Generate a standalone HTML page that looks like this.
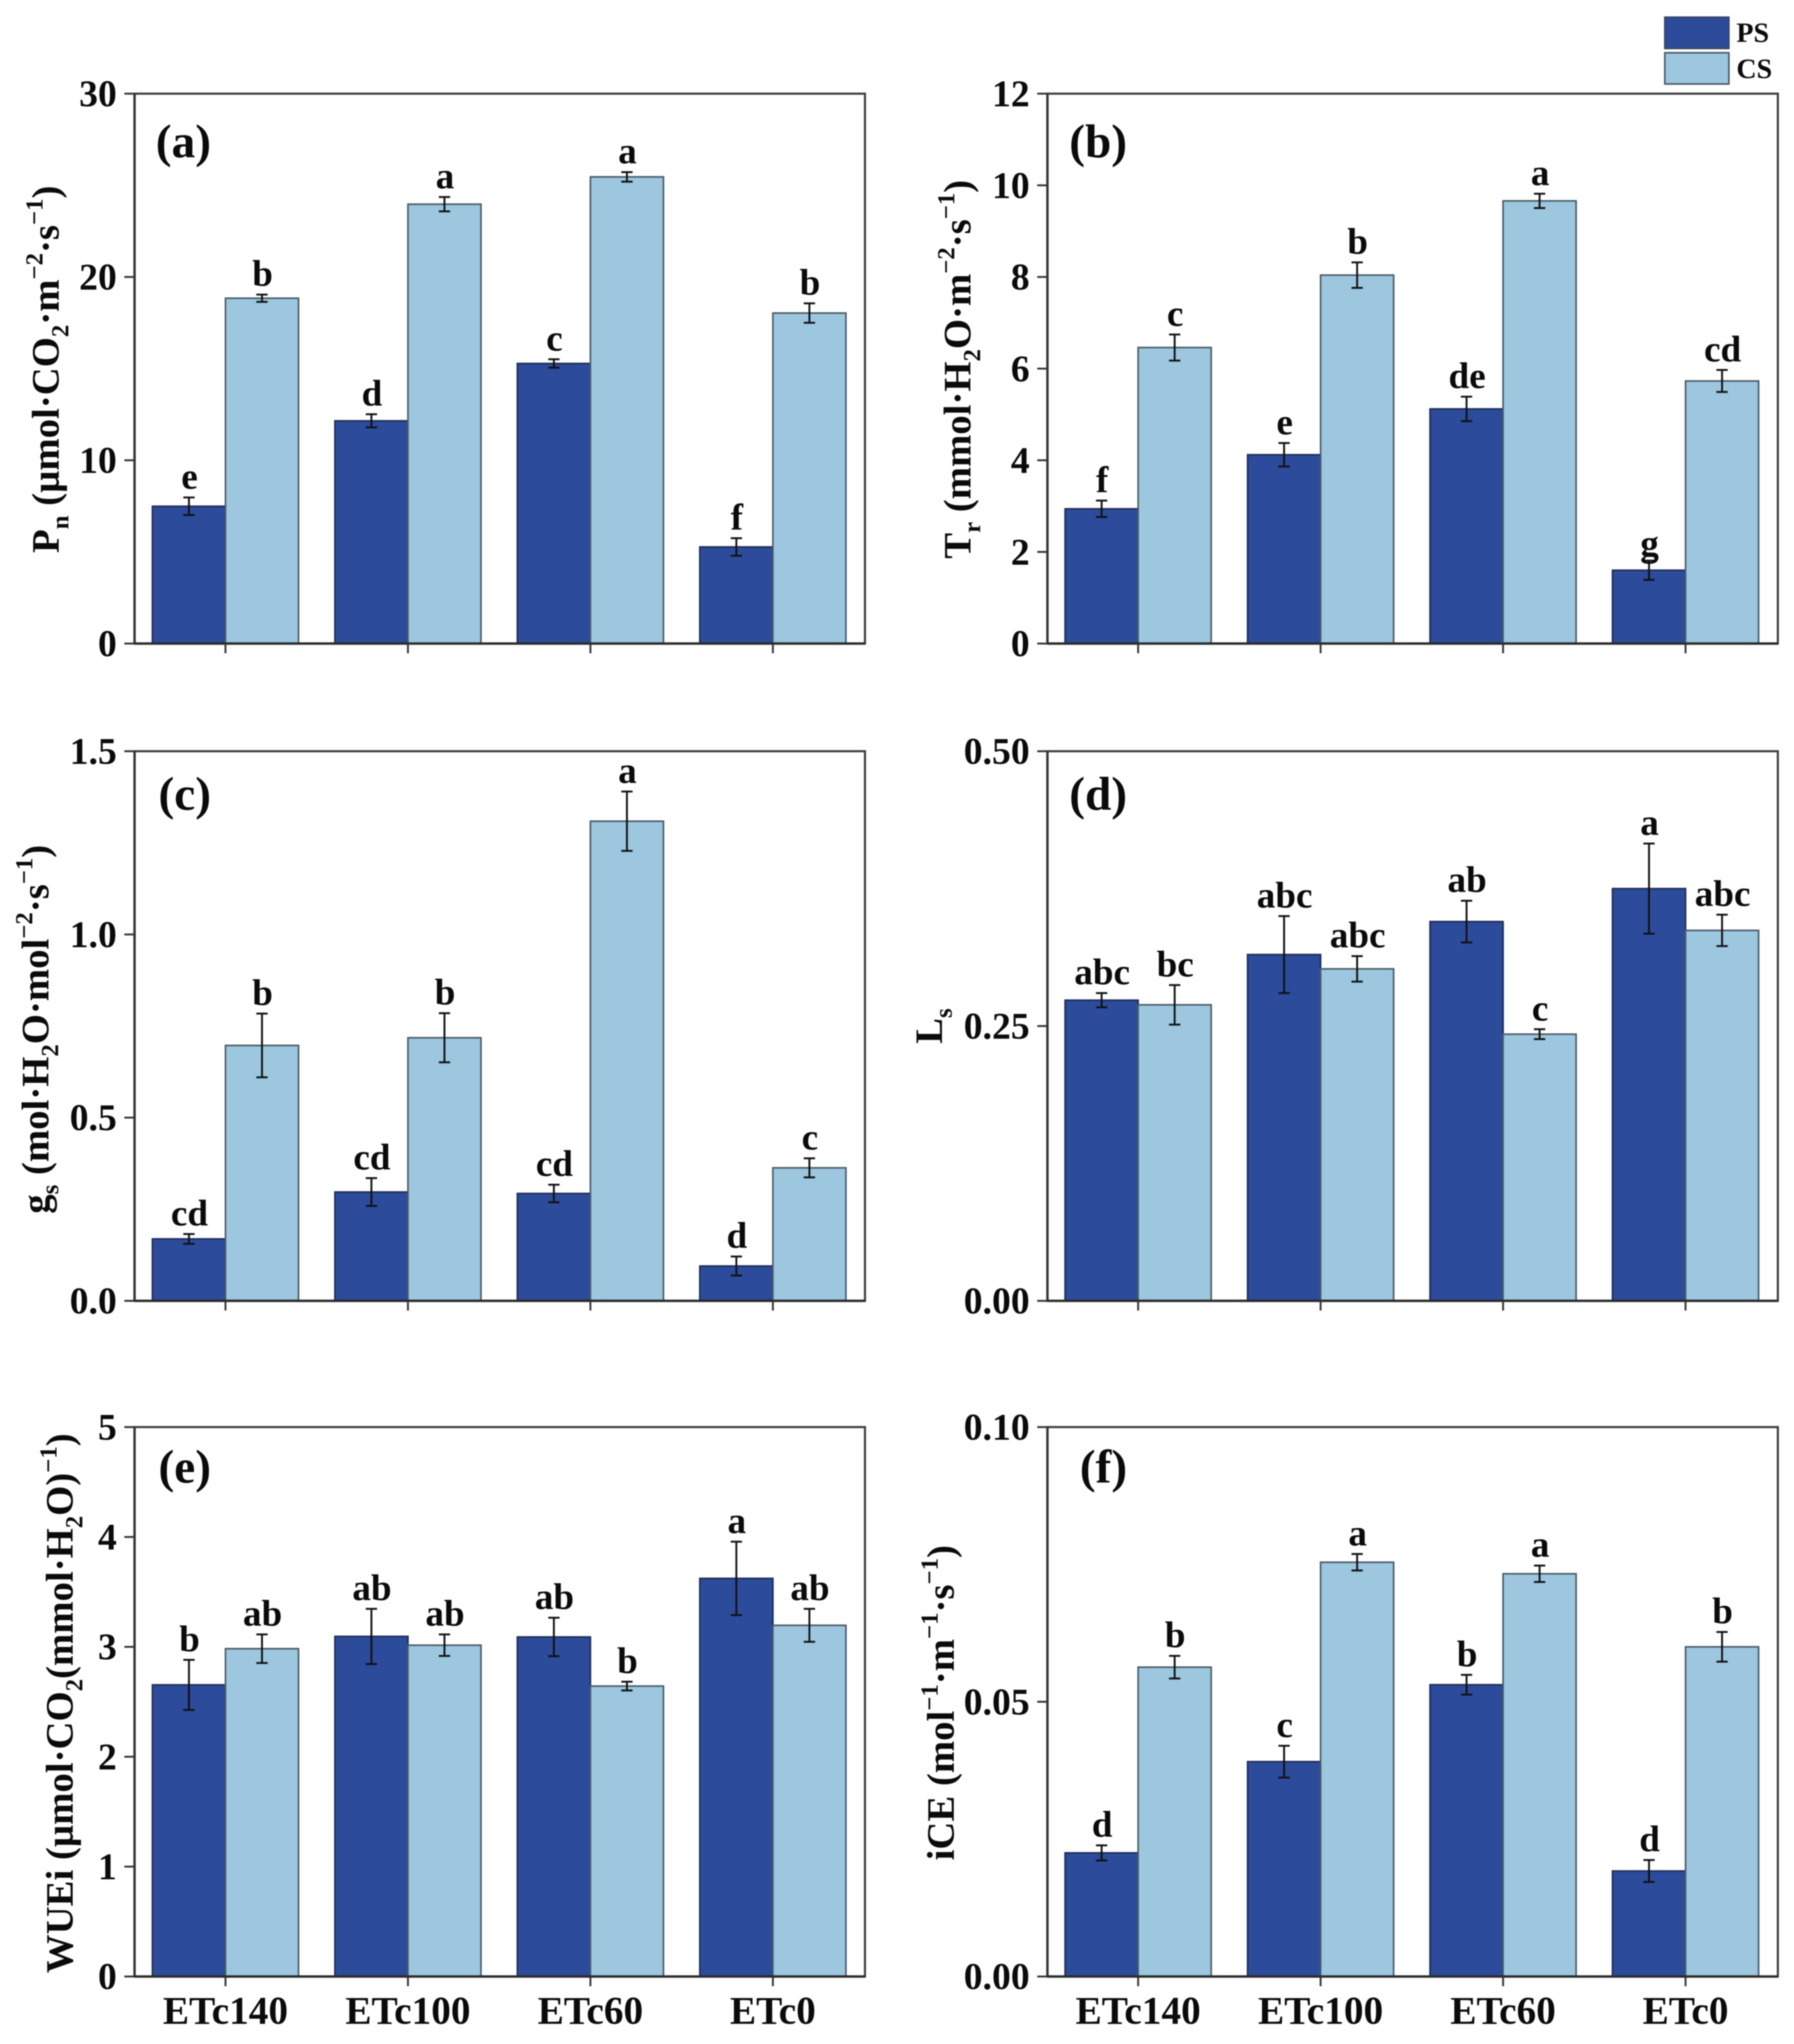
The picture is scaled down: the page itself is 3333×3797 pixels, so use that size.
<!DOCTYPE html>
<html lang="en">
<head>
<meta charset="utf-8">
<title>Photosynthetic parameters under PS and CS</title>
<style>
html,body{margin:0;padding:0;background:#fff;}
svg{display:block;}
text{font-family:"Liberation Serif","DejaVu Serif",serif;font-weight:bold;fill:#0a0a0a;}
.title{font-size:72px;text-anchor:middle;}
.tick-label{font-size:70px;text-anchor:end;}
.cat-label{font-size:73px;text-anchor:middle;}
.letter{font-size:69px;text-anchor:middle;}
.panel-label{font-size:88px;text-anchor:end;}
.legend-label{font-size:52px;}
.s{font-size:46px;}
</style>
</head>
<body>
<svg id="chart" xmlns="http://www.w3.org/2000/svg" width="3333" height="3797" viewBox="0 0 3333 3797" style="filter:blur(1px)">
<rect width="3333" height="3797" fill="#ffffff"/>
<g id="marks"></g>

<text class="title" transform="translate(109,686) rotate(-90)">P<tspan class="s" dy="18">n</tspan><tspan dy="-18"> (µmol·CO</tspan><tspan class="s" dy="18">2</tspan><tspan dy="-18">·m</tspan><tspan class="s" dy="-30">−2</tspan><tspan dy="30">·s</tspan><tspan class="s" dy="-30">−1</tspan><tspan dy="30">)</tspan></text>

<text class="title" transform="translate(1803,686) rotate(-90)">T<tspan class="s" dy="18">r</tspan><tspan dy="-18"> (mmol·H</tspan><tspan class="s" dy="18">2</tspan><tspan dy="-18">O·m</tspan><tspan class="s" dy="-30">−2</tspan><tspan dy="30">·s</tspan><tspan class="s" dy="-30">−1</tspan><tspan dy="30">)</tspan></text>

<text class="title" transform="translate(90,1912) rotate(-90)">g<tspan class="s" dy="18">s</tspan><tspan dy="-18"> (mol·H</tspan><tspan class="s" dy="18">2</tspan><tspan dy="-18">O·mol</tspan><tspan class="s" dy="-30">−2</tspan><tspan dy="30">·s</tspan><tspan class="s" dy="-30">−1</tspan><tspan dy="30">)</tspan></text>

<text class="title" transform="translate(1750,1906) rotate(-90)">L<tspan class="s" dy="18">s</tspan></text>

<text class="title" transform="translate(135,3164) rotate(-90)">WUEi (µmol·CO<tspan class="s" dy="18">2</tspan><tspan dy="-18">(mmol·H</tspan><tspan class="s" dy="18">2</tspan><tspan dy="-18">O)</tspan><tspan class="s" dy="-30">−1</tspan><tspan dy="30">)</tspan></text>

<text class="title" transform="translate(1772,3163) rotate(-90)">iCE (mol<tspan class="s" dy="-30">−1</tspan><tspan dy="30">·m</tspan><tspan class="s" dy="-30">−1</tspan><tspan dy="30">·s</tspan><tspan class="s" dy="-30">−1</tspan><tspan dy="30">)</tspan></text>

<g>
  <rect x="3093" y="32" width="119" height="58" fill="#2c4b9b" stroke="#3a4560" stroke-width="3"/>
  <rect x="3093" y="98" width="119" height="58" fill="#9cc7df" stroke="#4a5a66" stroke-width="3"/>
  <text class="legend-label" x="3226" y="78">PS</text>
  <text class="legend-label" x="3226" y="145">CS</text>
</g>
</svg>

<script>
const categories = ['ETc140', 'ETc100', 'ETc60', 'ETc0'];

// (a) Pn
const pnTicks = [0, 10, 20, 30];
const pnTickLabels = ['0', '10', '20', '30'];
const pnPS = [7.49, 12.15, 15.28, 5.27];
const pnCS = [18.84, 23.97, 25.46, 18.03];
const pnPSErr = [0.48, 0.36, 0.23, 0.48];
const pnCSErr = [0.2, 0.39, 0.26, 0.53];
const pnPSLetters = ['e', 'd', 'c', 'f'];
const pnCSLetters = ['b', 'a', 'a', 'b'];

// (b) Tr
const trTicks = [0, 2, 4, 6, 8, 10, 12];
const trTickLabels = ['0', '2', '4', '6', '8', '10', '12'];
const trPS = [2.94, 4.12, 5.12, 1.6];
const trCS = [6.46, 8.04, 9.66, 5.73];
const trPSErr = [0.18, 0.256, 0.267, 0.21];
const trCSErr = [0.285, 0.278, 0.157, 0.24];
const trPSLetters = ['f', 'e', 'de', 'g'];
const trCSLetters = ['c', 'b', 'a', 'cd'];

// (c) gs
const gsTicks = [0, 0.5, 1, 1.5];
const gsTickLabels = ['0.0', '0.5', '1.0', '1.5'];
const gsPS = [0.169, 0.297, 0.293, 0.095];
const gsCS = [0.697, 0.718, 1.309, 0.363];
const gsPSErr = [0.0133, 0.038, 0.024, 0.026];
const gsCSErr = [0.087, 0.067, 0.081, 0.026];
const gsPSLetters = ['cd', 'cd', 'cd', 'd'];
const gsCSLetters = ['b', 'b', 'a', 'c'];

// (d) Ls
const lsTicks = [0, 0.25, 0.5];
const lsTickLabels = ['0.00', '0.25', '0.50'];
const lsPS = [0.2735, 0.315, 0.345, 0.375];
const lsCS = [0.2693, 0.302, 0.2426, 0.337];
const lsPSErr = [0.0065, 0.035, 0.019, 0.041];
const lsCSErr = [0.018, 0.0116, 0.0045, 0.0143];
const lsPSLetters = ['abc', 'abc', 'ab', 'a'];
const lsCSLetters = ['bc', 'abc', 'c', 'abc'];

// (e) WUEi
const wueTicks = [0, 1, 2, 3, 4, 5];
const wueTickLabels = ['0', '1', '2', '3', '4', '5'];
const wuePS = [2.654, 3.095, 3.09, 3.623];
const wueCS = [2.983, 3.015, 2.643, 3.196];
const wuePSErr = [0.228, 0.251, 0.175, 0.334];
const wueCSErr = [0.13, 0.098, 0.04, 0.15];
const wuePSLetters = ['b', 'ab', 'ab', 'a'];
const wueCSLetters = ['ab', 'ab', 'b', 'ab'];

// (f) iCE
const iceTicks = [0, 0.05, 0.1];
const iceTickLabels = ['0.00', '0.05', '0.10'];
const icePS = [0.0225, 0.0391, 0.0531, 0.0192];
const iceCS = [0.0563, 0.0754, 0.0733, 0.06];
const icePSErr = [0.00137, 0.0029, 0.0018, 0.002];
const iceCSErr = [0.00206, 0.0015, 0.0015, 0.0027];
const icePSLetters = ['d', 'c', 'b', 'd'];
const iceCSLetters = ['b', 'a', 'a', 'b'];

const NS = 'http://www.w3.org/2000/svg';
const root = document.getElementById('marks');

function make(parent, tag, attrs, content) {
  const el = document.createElementNS(NS, tag);
  for (const k in attrs) el.setAttribute(k, attrs[k]);
  if (content !== undefined) el.textContent = content;
  parent.appendChild(el);
  return el;
}

function drawPanel(id, label, box, ticks, tickLabels, ps, cs, psErr, csErr, psLetters, csLetters, showCategories) {
  const yMax = ticks[ticks.length - 1];
  const yScale = v => box.bottom - (v / yMax) * (box.bottom - box.top);
  const step = 339;
  const barW = 135.7;
  const groupX = i => box.firstBar + i * step;

  const g = make(root, 'g', {});
  
  

  const drawSeries = (values, offset, fill, stroke, seriesName) => {
    values.forEach((v, i) => {
      const x = groupX(i) + offset * barW;
      const top = yScale(v);
      const bar = make(g, 'rect', {
        x: x, y: top, width: barW, height: box.bottom - top,
        fill: fill, stroke: stroke, 'stroke-width': 3
      });
      
      
    });
  };
  const drawErrors = (values, errs, letters, offset, seriesName) => {
    values.forEach((v, i) => {
      const cx = groupX(i) + offset * barW + barW / 2;
      const hi = yScale(v + errs[i]);
      const lo = yScale(v - errs[i]);
      const err = make(g, 'path', {
        d: 'M' + (cx - 10.5) + ' ' + hi + 'H' + (cx + 10.5) +
           'M' + cx + ' ' + hi + 'V' + lo +
           'M' + (cx - 10.5) + ' ' + lo + 'H' + (cx + 10.5),
        fill: 'none', stroke: '#111111', 'stroke-width': 3.5
      });
      
      
      const gap = letters[i] === 'g' ? 9 : 16;
      const lab = make(g, 'text', { x: cx + 1, y: hi - gap, class: 'letter' }, letters[i]);
      
      
    });
  };

  drawSeries(ps, 0, '#2c4b9b', '#1f2d55', 'ps');
  drawSeries(cs, 1, '#9cc7df', '#4a5a66', 'cs');
  drawErrors(ps, psErr, psLetters, 0, 'ps');
  drawErrors(cs, csErr, csLetters, 1, 'cs');

  const frame = make(g, 'rect', {
    x: box.left, y: box.top, width: box.right - box.left, height: box.bottom - box.top,
    fill: 'none', stroke: '#404040', 'stroke-width': 4
  });
  
  

  const yAxis = make(g, 'line', {
    x1: box.left, x2: box.left, y1: box.top, y2: box.bottom, stroke: '#333333', 'stroke-width': 4.5
  });
  
  

  const xAxis = make(g, 'line', {
    x1: box.left, x2: box.right, y1: box.bottom, y2: box.bottom, stroke: '#2a2a2a', 'stroke-width': 4.5
  });
  
  

  ticks.forEach((t, i) => {
    const y = yScale(t);
    const tk = make(g, 'line', {
      x1: box.left - 19, x2: box.left, y1: y, y2: y, stroke: '#333333', 'stroke-width': 3.5
    });
    
    
    const tl = make(g, 'text', { x: box.left - 33, y: y + 23.5, class: 'tick-label' }, tickLabels[i]);
    
    
  });

  categories.forEach((c, i) => {
    const x = groupX(i) + barW;
    const tk = make(g, 'line', {
      x1: x, x2: x, y1: box.bottom, y2: box.bottom + 18, stroke: '#333333', 'stroke-width': 3.5
    });
    
    
    if (showCategories) {
      const cl = make(g, 'text', { x: x, y: box.bottom + 88, class: 'cat-label' }, c);
      
      
    }
  });

  const pl = make(g, 'text', { x: box.labelX, y: box.labelY, class: 'panel-label' }, label);
  
  
}

const leftCol = { left: 250, right: 1607, firstBar: 283.2, labelX: 392 };
const rightCol = { left: 1946, right: 3303, firstBar: 1978.8, labelX: 2094 };
const row1 = { top: 174, bottom: 1195.5, labelY: 292 };
const row2 = { top: 1395.5, bottom: 2416.5, labelY: 1504 };
const row3 = { top: 2651, bottom: 3671.6, labelY: 2754 };

drawPanel('a', '(a)', Object.assign({}, leftCol, row1), pnTicks, pnTickLabels, pnPS, pnCS, pnPSErr, pnCSErr, pnPSLetters, pnCSLetters, false);
drawPanel('b', '(b)', Object.assign({}, rightCol, row1), trTicks, trTickLabels, trPS, trCS, trPSErr, trCSErr, trPSLetters, trCSLetters, false);
drawPanel('c', '(c)', Object.assign({}, leftCol, row2), gsTicks, gsTickLabels, gsPS, gsCS, gsPSErr, gsCSErr, gsPSLetters, gsCSLetters, false);
drawPanel('d', '(d)', Object.assign({}, rightCol, row2), lsTicks, lsTickLabels, lsPS, lsCS, lsPSErr, lsCSErr, lsPSLetters, lsCSLetters, false);
drawPanel('e', '(e)', Object.assign({}, leftCol, row3), wueTicks, wueTickLabels, wuePS, wueCS, wuePSErr, wueCSErr, wuePSLetters, wueCSLetters, true);
drawPanel('f', '(f)', Object.assign({}, rightCol, row3), iceTicks, iceTickLabels, icePS, iceCS, icePSErr, iceCSErr, icePSLetters, iceCSLetters, true);
</script>
</body>
</html>
